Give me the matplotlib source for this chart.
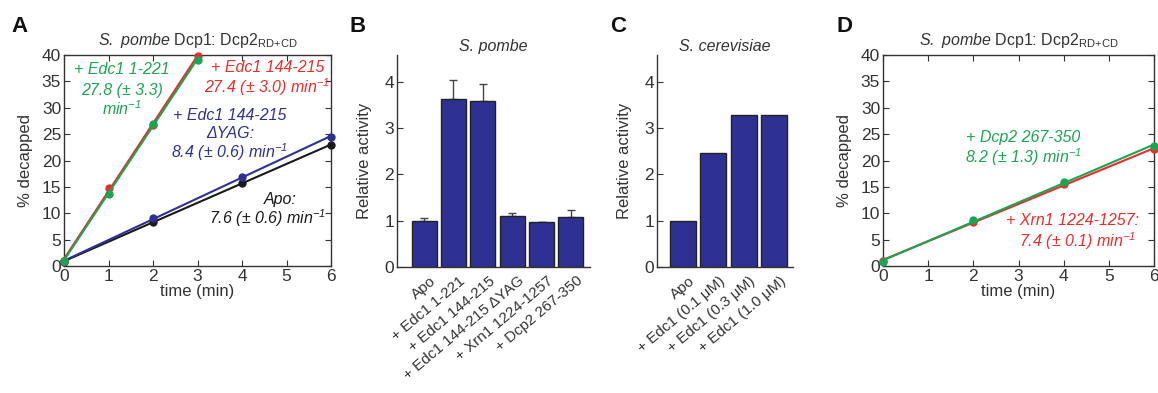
import numpy as np
import matplotlib
matplotlib.use("Agg")
import matplotlib.pyplot as plt
from matplotlib.transforms import ScaledTranslation, blended_transform_factory

plt.rcParams['font.family'] = ['Liberation Sans', 'DejaVu Sans']
plt.rcParams['mathtext.fontset'] = 'custom'
plt.rcParams['mathtext.rm'] = 'Liberation Sans:italic'
plt.rcParams['mathtext.it'] = 'Liberation Sans:italic'
plt.rcParams['mathtext.sf'] = 'Liberation Sans'
plt.rcParams['mathtext.bf'] = 'Liberation Sans:bold'

# ---------------- data ----------------
# Panel A
tA_fast = [0, 1, 2, 3]
edc1_1_221 = [1.0, 13.7, 27.0, 39.0]
edc1_144_215 = [1.0, 14.8, 26.8, 39.8]
tA_slow = [0, 2, 4, 6]
dyag = [0.8, 9.1, 16.9, 24.5]
apo = [0.9, 8.3, 15.7, 23.0]

# Panel B
b_labels = ['Apo', '+ Edc1 1-221', '+ Edc1 144-215', '+ Edc1 144-215 \u0394YAG',
            '+ Xrn1 1224-1257', '+ Dcp2 267-350']
b_values = [1.0, 3.63, 3.58, 1.10, 0.97, 1.07]
b_errors = [0.06, 0.42, 0.38, 0.06, 0.01, 0.16]

# Panel C
c_labels = ['Apo', '+ Edc1 (0.1 \u03bcM)', '+ Edc1 (0.3 \u03bcM)', '+ Edc1 (1.0 \u03bcM)']
c_values = [1.0, 2.47, 3.28, 3.28]

# Panel D
tD = [0, 2, 4, 6]
dcp2_267_350 = [0.8, 8.7, 15.9, 22.8]
xrn1 = [1.0, 8.3, 15.6, 22.1]

GREEN = '#1ba552'
RED = '#ee2b2b'
BLUE = '#2e3192'
BLACK = '#1a1a1a'
BAR = '#2e3192'
TXT = '#333333'

fig = plt.figure(figsize=(11.58, 3.93), dpi=100)

bottom = 1 - 266 / 393
height = (266 - 55) / 393
SUP = '$^{-1}$'
TITLE = r'$\mathit{S.}$ $\mathit{pombe}$ Dcp1: Dcp2$_{\mathsf{RD{+}CD}}$'

def fitline(ax, t, y, color, xmax, z=2):
    p = np.polyfit(t, y, 1)
    xs = np.array([0, xmax])
    ax.plot(xs, np.polyval(p, xs), color=color, lw=1.5, zorder=z)
    ax.plot(t, y, 'o', color=color, ms=5, zorder=z + 1, clip_on=False)

def style_box(ax):
    ax.set_xlim(0, 6)
    ax.set_ylim(0, 40)
    ax.set_xticks(range(0, 7))
    ax.set_yticks(range(0, 41, 5))
    ax.tick_params(direction='in', top=True, right=True, length=4, width=0.8,
                   labelsize=12.5, colors=TXT, labelcolor=TXT, pad=2)
    for s in ax.spines.values():
        s.set_color(TXT)
        s.set_linewidth(1.0)
    ax.set_xlabel('time (min)', fontsize=12, color=TXT, labelpad=0)
    ax.set_ylabel('% decapped', fontsize=12, color=TXT, labelpad=6)
    ax.set_title(TITLE, fontsize=11.5, color=TXT, pad=7)

def note(ax, x, y, s, color):
    ax.text(x, y, s, color=color, fontsize=11.5, ha='center', va='center', style='italic')

# ---------- Panel A ----------
axA = fig.add_axes([64 / 1158, bottom, (331 - 64) / 1158, height])
fitline(axA, tA_slow, apo, BLACK, 6, z=2)
fitline(axA, tA_slow, dyag, BLUE, 6, z=3)
fitline(axA, tA_fast, edc1_144_215, RED, 3, z=4)
fitline(axA, tA_fast, edc1_1_221, GREEN, 3, z=5)
style_box(axA)
note(axA, 1.3, 37.2, '+ Edc1 1-221', GREEN)
note(axA, 1.3, 33.3, '27.8 (\u00b1 3.3)', GREEN)
note(axA, 1.3, 29.9, 'min' + SUP, GREEN)
note(axA, 4.57, 37.6, '+ Edc1 144-215', RED)
note(axA, 4.57, 33.9, '27.4 (\u00b1 3.0) min' + SUP, RED)
note(axA, 3.73, 28.6, '+ Edc1 144-215', BLUE)
note(axA, 3.73, 25.1, '\u0394YAG:', BLUE)
note(axA, 3.73, 21.5, '8.4 (\u00b1 0.6) min' + SUP, BLUE)
note(axA, 4.85, 12.6, 'Apo:', BLACK)
note(axA, 4.57, 9.0, '7.6 (\u00b1 0.6) min' + SUP, BLACK)

# ---------- bar panels ----------
def style_bar(ax, labels, title):
    ax.set_yticks(range(0, 5))
    xs = np.arange(1, len(labels) + 1)
    ax.set_xticks(xs)
    ax.set_xticklabels([])
    trans = blended_transform_factory(ax.transData, ax.transAxes) + \
        ScaledTranslation(10 / 100, -12 / 100, fig.dpi_scale_trans)
    for x, lab in zip(xs, labels):
        ax.text(x, 0, lab, transform=trans, rotation=40, ha='right', va='center',
                rotation_mode='anchor', fontsize=11, color=TXT)
    ax.tick_params(axis='y', direction='in', length=4, labelsize=12.5, colors=TXT, pad=2)
    ax.tick_params(axis='x', length=0, pad=4)
    for s in ['top', 'right']:
        ax.spines[s].set_visible(False)
    for s in ['left', 'bottom']:
        ax.spines[s].set_color(TXT)
        ax.spines[s].set_linewidth(1.0)
    ax.set_ylabel('Relative activity', fontsize=12, color=TXT, labelpad=9)
    ax.set_title(title, fontsize=11.5, color=TXT, style='italic', pad=3)

# ---------- Panel B ----------
axB = fig.add_axes([397 / 1158, 1 - 267 / 393, (590 - 397) / 1158, (267 - 55) / 393])
xb = np.arange(1, len(b_values) + 1)
axB.bar(xb, b_values, width=0.85, color=BAR, edgecolor='#222222', linewidth=1.0, zorder=2)
axB.errorbar(xb, b_values, yerr=[np.zeros(len(b_errors)), b_errors], fmt='none',
             ecolor='#444444', elinewidth=1.0, capsize=3, capthick=1.0, zorder=1)
axB.set_xlim(0.08, 6.65)
axB.set_ylim(0, 4.58)
style_bar(axB, b_labels, 'S. pombe')

# ---------- Panel C ----------
axC = fig.add_axes([657 / 1158, 1 - 267 / 393, (793 - 657) / 1158, (267 - 55) / 393])
xc = np.arange(1, len(c_values) + 1)
axC.bar(xc, c_values, width=0.85, color=BAR, edgecolor='#222222', linewidth=1.0, zorder=2)
axC.set_xlim(0.14, 4.63)
axC.set_ylim(0, 4.58)
style_bar(axC, c_labels, 'S. cerevisiae')

# ---------- Panel D ----------
axD = fig.add_axes([883 / 1158, bottom, (1154 - 883) / 1158, height])
fitline(axD, tD, xrn1, RED, 6, z=2)
fitline(axD, tD, dcp2_267_350, GREEN, 6, z=4)
style_box(axD)
note(axD, 3.1, 24.4, '+ Dcp2 267-350', GREEN)
note(axD, 3.1, 20.6, '8.2 (\u00b1 1.3) min' + SUP, GREEN)
note(axD, 4.2, 8.6, '+ Xrn1 1224-1257:', RED)
note(axD, 4.3, 4.8, '7.4 (\u00b1 0.1) min' + SUP, RED)

# Panel letters
for lbl, x in [('A', 20), ('B', 358), ('C', 618), ('D', 845)]:
    fig.text(x / 1158, 1 - 27 / 393, lbl, fontsize=16, fontweight='bold', ha='center', va='center', color='#111111')

fig.savefig('out.png', dpi=100, facecolor='white')
